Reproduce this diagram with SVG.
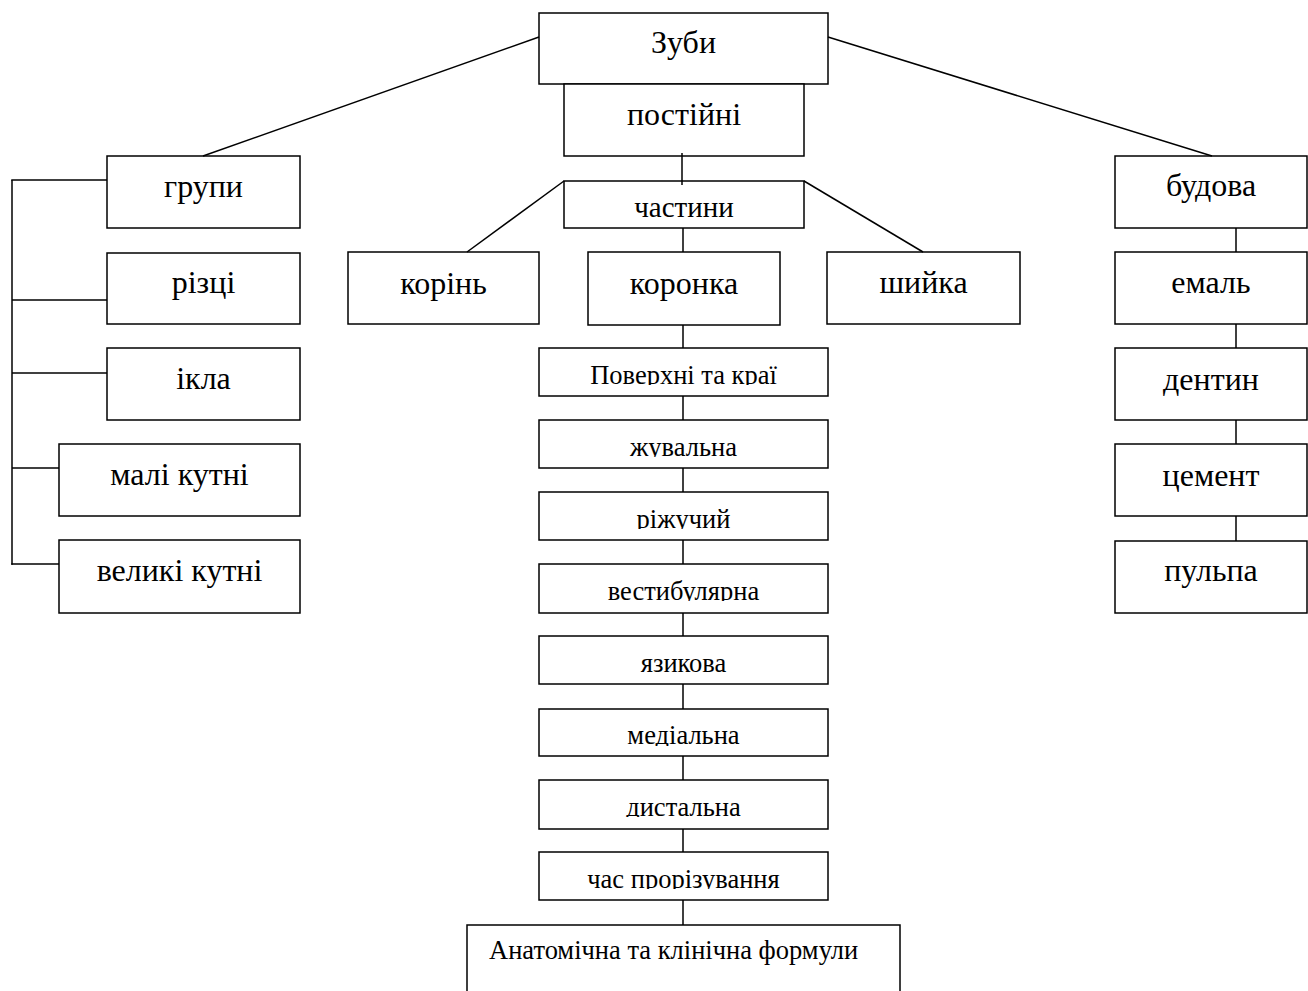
<svg xmlns="http://www.w3.org/2000/svg" width="1308" height="991" viewBox="0 0 1308 991">
<style>
.box{fill:#fff;stroke:#000;stroke-width:1.5}
.lbl{font-family:"Liberation Serif","Times New Roman",serif;fill:#000;text-anchor:middle}
.big{font-size:32px}
.mid{font-size:29px}
.sm{font-size:26.5px}
.conn line{stroke:#000;stroke-width:1.5}
</style>
<defs>
<clipPath id="clipSmall" clipPathUnits="userSpaceOnUse"><rect x="0" y="0" width="289" height="37"/></clipPath>
</defs>
<rect width="1308" height="991" fill="#fff"/>
<g id="nodes">
<g id="n-zuby"><rect class="box" x="539" y="13" width="289" height="71"/><text class="lbl big" x="683.5" y="53">Зуби</text></g>
<g id="n-postiini"><rect class="box" x="564" y="84" width="240" height="72"/><text class="lbl big" x="684" y="125">постійні</text></g>
<g id="n-chastyny"><rect class="box" x="564" y="181" width="240" height="47"/><text class="lbl mid" x="684" y="217">частини</text></g>
<g id="n-korin"><rect class="box" x="348" y="252" width="191" height="72"/><text class="lbl big" x="443.5" y="294">корінь</text></g>
<g id="n-koronka"><rect class="box" x="588" y="252" width="192" height="73"/><text class="lbl big" x="684" y="294">коронка</text></g>
<g id="n-shyika"><rect class="box" x="827" y="252" width="193" height="72"/><text class="lbl big" x="923.5" y="293">шийка</text></g>
<g id="n-hrupy"><rect class="box" x="107" y="156" width="193" height="72"/><text class="lbl big" x="203.5" y="197">групи</text></g>
<g id="n-riztsi"><rect class="box" x="107" y="253" width="193" height="71"/><text class="lbl big" x="203.5" y="293">різці</text></g>
<g id="n-ikla"><rect class="box" x="107" y="348" width="193" height="72"/><text class="lbl big" x="203.5" y="389">ікла</text></g>
<g id="n-mali"><rect class="box" x="59" y="444" width="241" height="72"/><text class="lbl big" x="179.5" y="485">малі кутні</text></g>
<g id="n-velyki"><rect class="box" x="59" y="540" width="241" height="73"/><text class="lbl big" x="179.5" y="581">великі кутні</text></g>
<g id="n-budova"><rect class="box" x="1115" y="156" width="192" height="72"/><text class="lbl big" x="1211" y="196">будова</text></g>
<g id="n-emal"><rect class="box" x="1115" y="252" width="192" height="72"/><text class="lbl big" x="1211" y="293">емаль</text></g>
<g id="n-dentyn"><rect class="box" x="1115" y="348" width="192" height="72"/><text class="lbl big" x="1211" y="390">дентин</text></g>
<g id="n-tsement"><rect class="box" x="1115" y="444" width="192" height="72"/><text class="lbl big" x="1211" y="486">цемент</text></g>
<g id="n-pulpa"><rect class="box" x="1115" y="541" width="192" height="72"/><text class="lbl big" x="1211" y="581">пульпа</text></g>
<g id="n-poverkhni" transform="translate(539,348)"><rect class="box" x="0" y="0" width="289" height="48"/><text class="lbl sm" x="144.5" y="36" clip-path="url(#clipSmall)">Поверхні та краї</text></g>
<g id="n-zhuvalna" transform="translate(539,420)"><rect class="box" x="0" y="0" width="289" height="48"/><text class="lbl sm" x="144.5" y="36" clip-path="url(#clipSmall)">жувальна</text></g>
<g id="n-rizhuchyi" transform="translate(539,492)"><rect class="box" x="0" y="0" width="289" height="48"/><text class="lbl sm" x="144.5" y="36" clip-path="url(#clipSmall)">ріжучий</text></g>
<g id="n-vestybuliarna" transform="translate(539,564)"><rect class="box" x="0" y="0" width="289" height="49"/><text class="lbl sm" x="144.5" y="36" clip-path="url(#clipSmall)">вестибулярна</text></g>
<g id="n-iazykova" transform="translate(539,636)"><rect class="box" x="0" y="0" width="289" height="48"/><text class="lbl sm" x="144.5" y="36" clip-path="url(#clipSmall)">язикова</text></g>
<g id="n-medialna" transform="translate(539,709)"><rect class="box" x="0" y="0" width="289" height="47"/><text class="lbl sm" x="144.5" y="35" clip-path="url(#clipSmall)">медіальна</text></g>
<g id="n-dystalna" transform="translate(539,780)"><rect class="box" x="0" y="0" width="289" height="49"/><text class="lbl sm" x="144.5" y="36" clip-path="url(#clipSmall)">дистальна</text></g>
<g id="n-chas" transform="translate(539,852)"><rect class="box" x="0" y="0" width="289" height="48"/><text class="lbl sm" x="144.5" y="36" clip-path="url(#clipSmall)">час прорізування</text></g>
<g id="n-formuly"><rect class="box" x="467" y="925" width="433" height="80"/><text class="lbl sm" x="489" y="959" style="text-anchor:start">Анатомічна та клінічна формули</text></g>
</g>
<g id="connectors" class="conn">
<line x1="539" y1="37" x2="203" y2="156"/>
<line x1="828" y1="37" x2="1212" y2="156"/>
<line x1="682" y1="153" x2="682" y2="185"/>
<line x1="564" y1="181" x2="467" y2="252"/>
<line x1="804" y1="181" x2="923" y2="252"/>
<line x1="683" y1="228" x2="683" y2="252"/>
<line x1="683" y1="325" x2="683" y2="348"/>
<line x1="683" y1="396" x2="683" y2="420"/>
<line x1="683" y1="468" x2="683" y2="492"/>
<line x1="683" y1="540" x2="683" y2="564"/>
<line x1="683" y1="613" x2="683" y2="636"/>
<line x1="683" y1="684" x2="683" y2="709"/>
<line x1="683" y1="756" x2="683" y2="780"/>
<line x1="683" y1="829" x2="683" y2="852"/>
<line x1="683" y1="900" x2="683" y2="925"/>
<line x1="12" y1="180" x2="12" y2="564.75"/>
<line x1="11.25" y1="180" x2="107" y2="180"/>
<line x1="12" y1="300" x2="107" y2="300"/>
<line x1="12" y1="373" x2="107" y2="373"/>
<line x1="12" y1="468" x2="59" y2="468"/>
<line x1="11.25" y1="564" x2="59" y2="564"/>
<line x1="1236" y1="228" x2="1236" y2="252"/>
<line x1="1236" y1="324" x2="1236" y2="348"/>
<line x1="1236" y1="420" x2="1236" y2="444"/>
<line x1="1236" y1="516" x2="1236" y2="541"/>
</g>
</svg>
